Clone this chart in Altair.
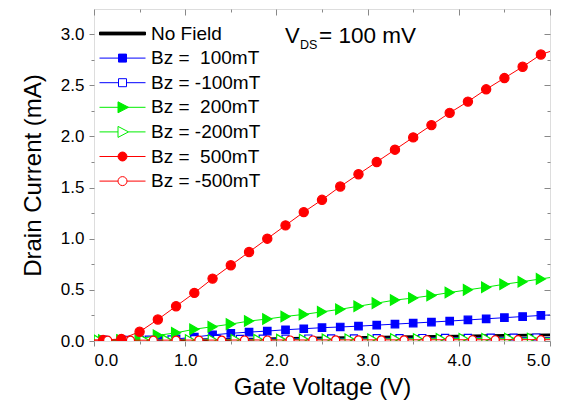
import altair as alt
import pandas as pd

# ---------------- data ----------------
series = ["No Field", "Bz = \u00a0100mT", "Bz = -100mT", "Bz = \u00a0200mT",
          "Bz = -200mT", "Bz = \u00a0500mT", "Bz = -500mT"]
colors = ["#000000", "#0000FF", "#0000FF", "#00EE00", "#00EE00", "#FF0000", "#FF0000"]

# No Field (line only)
x_nofield = [0.0, 0.5, 1.0, 1.5, 2.0, 2.5, 3.0, 3.5, 4.0, 4.5, 5.0]
y_nofield = [0.003, 0.005, 0.008, 0.015, 0.022, 0.030, 0.036, 0.042, 0.048, 0.054, 0.060]

# positive fields (markers every 0.2 V)
x_pos = [0.1, 0.3, 0.5, 0.7, 0.9, 1.1, 1.3, 1.5, 1.7, 1.9, 2.1, 2.3, 2.5,
         2.7, 2.9, 3.1, 3.3, 3.5, 3.7, 3.9, 4.1, 4.3, 4.5, 4.7, 4.9]
y_p100 = [0.010, 0.010, 0.010, 0.015, 0.020, 0.038, 0.060, 0.075, 0.087, 0.097, 0.110, 0.120, 0.130,
          0.137, 0.145, 0.155, 0.165, 0.175, 0.185, 0.195, 0.206, 0.217, 0.228, 0.239, 0.250]
y_p200 = [0.010, 0.010, 0.020, 0.055, 0.080, 0.115, 0.140, 0.165, 0.195, 0.215, 0.240, 0.260, 0.285,
          0.310, 0.340, 0.370, 0.400, 0.420, 0.445, 0.474, 0.500, 0.526, 0.555, 0.580, 0.607]
y_p500 = [0.010, 0.020, 0.090, 0.210, 0.340, 0.470, 0.610, 0.740, 0.870, 1.000, 1.130, 1.260, 1.380,
          1.510, 1.630, 1.750, 1.870, 1.990, 2.110, 2.230, 2.340, 2.460, 2.570, 2.680, 2.800]
# line end values at 0.0 V and 5.0 V
y0_p100, y5_p100 = 0.010, 0.255
y0_p200, y5_p200 = 0.010, 0.620
y0_p500, y5_p500 = 0.010, 2.830

# negative fields (markers every 0.25 V)
x_m100 = [0.10, 0.35, 0.60, 0.85, 1.10, 1.35, 1.60, 1.85, 2.10, 2.35,
          2.60, 2.85, 3.10, 3.35, 3.60, 3.85, 4.10, 4.35, 4.60, 4.85]
y_m100 = [0.010, 0.012, 0.014, 0.016, 0.018, 0.020, 0.021, 0.022, 0.023, 0.024,
          0.025, 0.026, 0.027, 0.028, 0.029, 0.030, 0.031, 0.032, 0.033, 0.034]
x_m200 = [0.05, 0.30, 0.55, 0.80, 1.05, 1.30, 1.55, 1.80, 2.05, 2.30,
          2.55, 2.80, 3.05, 3.30, 3.55, 3.80, 4.05, 4.30, 4.55, 4.80]
y_m200 = [0.008, 0.009, 0.010, 0.011, 0.012, 0.013, 0.014, 0.015, 0.016, 0.017,
          0.018, 0.019, 0.020, 0.021, 0.022, 0.023, 0.024, 0.025, 0.026, 0.027]
x_m500 = [0.15, 0.40, 0.65, 0.90, 1.15, 1.40, 1.65, 1.90, 2.15, 2.40,
          2.65, 2.90, 3.15, 3.40, 3.65, 3.90, 4.15, 4.40, 4.65, 4.90]
y_m500 = [0.008, 0.008, 0.008, 0.009, 0.009, 0.009, 0.010, 0.010, 0.010, 0.010,
          0.011, 0.011, 0.011, 0.011, 0.012, 0.012, 0.012, 0.012, 0.013, 0.013]

x_major = [0.0, 1.0, 2.0, 3.0, 4.0, 5.0]
x_minor = [0.5, 1.5, 2.5, 3.5, 4.5]
y_major = [0.0, 0.5, 1.0, 1.5, 2.0, 2.5, 3.0]
y_minor = [0.25, 0.75, 1.25, 1.75, 2.25, 2.75]

# ---------------- helpers ----------------
FONT = "Liberation Sans"
xscale = alt.Scale(domain=[0, 5], nice=False, zero=False)
yscale = alt.Scale(domain=[0, 3.245], nice=False, zero=False)

ax_x = [
    alt.Axis(orient="bottom", values=x_major, format=".1f", tickSize=5, labelPadding=6,
             labelFontSize=17, title="Gate Voltage (V)", titleFontSize=24, titlePadding=7,
             titleFontWeight="normal", domain=False, grid=False),
    alt.Axis(orient="bottom", values=x_minor, tickSize=3, labels=False, title=None,
             domain=False, grid=False),
    alt.Axis(orient="top", values=x_major, tickSize=6, offset=-6, labels=False, title=None,
             domain=False, grid=False),
    alt.Axis(orient="top", values=x_minor, tickSize=3, offset=-3, labels=False, title=None,
             domain=False, grid=False),
]
ax_y = [
    alt.Axis(orient="left", values=y_major, format=".1f", tickSize=5, labelPadding=5,
             labelFontSize=17, title="Drain Current (mA)", titleFontSize=24, titlePadding=15,
             titleFontWeight="normal", domain=False, grid=False),
    alt.Axis(orient="left", values=y_minor, tickSize=3, labels=False, title=None,
             domain=False, grid=False),
    alt.Axis(orient="right", values=y_major, tickSize=6, offset=-6, labels=False, title=None,
             domain=False, grid=False),
    alt.Axis(orient="right", values=y_minor, tickSize=3, offset=-3, labels=False, title=None,
             domain=False, grid=False),
]

layer_count = [0]


def enc_xy():
    i = layer_count[0]
    layer_count[0] += 1
    if i < 4:
        return dict(x=alt.X("x:Q", scale=xscale, axis=ax_x[i]),
                    y=alt.Y("y:Q", scale=yscale, axis=ax_y[i]))
    return dict(x=alt.X("x:Q", scale=xscale, axis=None),
                y=alt.Y("y:Q", scale=yscale, axis=None))


def df(xs, ys):
    return pd.DataFrame({"x": xs, "y": ys})


layers = []
# No field line
layers.append(alt.Chart(df(x_nofield, y_nofield)).mark_line(color="black", strokeWidth=2.8, clip=True)
              .encode(**enc_xy()))

specs = [
    # (x markers, y markers, y0, y5, color, shape, filled, size)
    (x_pos, y_p100, y0_p100, y5_p100, colors[1], "square", True, 56),
    (x_m100, y_m100, None, None, colors[2], "square", False, 50),
    (x_pos, y_p200, y0_p200, y5_p200, colors[3], "triangle-right", True, 110),
    (x_m200, y_m200, None, None, colors[4], "triangle-right", False, 100),
    (x_pos, y_p500, y0_p500, y5_p500, colors[5], "circle", True, 85),
    (x_m500, y_m500, None, None, colors[6], "circle", False, 64),
]
for xs, ys, y0, y5, col, shp, filled, sz in specs:
    if y0 is not None:
        lx = [0.0] + xs + [5.0]
        ly = [y0] + ys + [y5]
    else:
        lx, ly = [0.0] + xs + [5.0], [ys[0]] + ys + [ys[-1]]
    layers.append(alt.Chart(df(lx, ly)).mark_line(color=col, strokeWidth=1, clip=True)
                  .encode(**enc_xy()))
    layers.append(alt.Chart(df(xs, ys)).mark_point(shape=shp, size=sz, filled=True,
                                                   fill=col if filled else "white",
                                                   stroke=col, strokeWidth=1.2, opacity=1,
                                                   clip=True)
                  .encode(**enc_xy()))

# legend (line + marker glyphs)
paths = [
    "M-2.3,-0.14H2.3V0.14H-2.3Z",
    "M-2.3,0H2.3M-0.4,-0.4H0.4V0.4H-0.4Z",
    "M-2.3,0H-0.4M0.4,0H2.3M-0.4,-0.4H0.4V0.4H-0.4Z",
    "M-2.3,0H2.3M-0.45,-0.55L0.6,0L-0.45,0.55Z",
    "M-2.3,0H-0.45M0.6,0H2.3M-0.45,-0.55L0.6,0L-0.45,0.55Z",
    "M-2.3,0H2.3M0.45,0A0.45,0.45,0,1,1,-0.45,0A0.45,0.45,0,1,1,0.45,0Z",
    "M-2.3,0H-0.45M0.45,0H2.3M0.45,0A0.45,0.45,0,1,1,-0.45,0A0.45,0.45,0,1,1,0.45,0Z",
]
fills = ["#000000", colors[1], "#FFFFFF", colors[3], "#FFFFFF", colors[5], "#FFFFFF"]

leg = alt.Legend(title=None, orient="none", legendX=18, legendY=14, padding=0,
                 labelFont=FONT, labelFontSize=19, labelColor="black", labelOffset=18,
                 symbolSize=400, symbolStrokeWidth=1, symbolOpacity=1, rowPadding=3.6,
                 labelLimit=300)
leg_df = pd.DataFrame({"series": series, "x": [x_nofield[0]] * 7, "y": [y_nofield[0]] * 7})
legend_layer = alt.Chart(leg_df).mark_point(filled=True, opacity=0).encode(
    x=alt.X("x:Q", scale=xscale, axis=None),
    y=alt.Y("y:Q", scale=yscale, axis=None),
    shape=alt.Shape("series:N", scale=alt.Scale(domain=series, range=paths), legend=leg,
                    sort=series),
    fill=alt.Fill("series:N", scale=alt.Scale(domain=series, range=fills), legend=leg,
                  sort=series),
    stroke=alt.Stroke("series:N", scale=alt.Scale(domain=series, range=colors), legend=leg,
                      sort=series),
)
layers.append(legend_layer)

# V_DS annotation
one = alt.Data(values=[{"a": 1}])
ann = [
    alt.Chart(one).mark_text(align="left", baseline="alphabetic", font=FONT, fontSize=22,
                             color="black").encode(x=alt.value(191), y=alt.value(34),
                                                   text=alt.value("V")),
    alt.Chart(one).mark_text(align="left", baseline="alphabetic", font=FONT, fontSize=12.5,
                             color="black").encode(x=alt.value(206), y=alt.value(40),
                                                   text=alt.value("DS")),
    alt.Chart(one).mark_text(align="left", baseline="alphabetic", font=FONT, fontSize=22.5,
                             color="black").encode(x=alt.value(225), y=alt.value(34),
                                                   text=alt.value("= 100 mV")),
]
layers.extend(ann)

chart = (
    alt.layer(*layers)
    .resolve_axis(x="independent", y="independent")
    .properties(width=456, height=332,
                autosize=alt.AutoSizeParams(type="none"),
                padding={"left": 86, "top": 1, "right": 15, "bottom": 59})
    .configure_view(stroke="black", strokeWidth=1.3)
    .configure_axis(labelFont=FONT, titleFont=FONT, labelColor="black", titleColor="black",
                    tickColor="black", tickWidth=1)
    .configure(background="white")
)

chart.save("out.html", embed_options={"renderer": "svg", "actions": False})
